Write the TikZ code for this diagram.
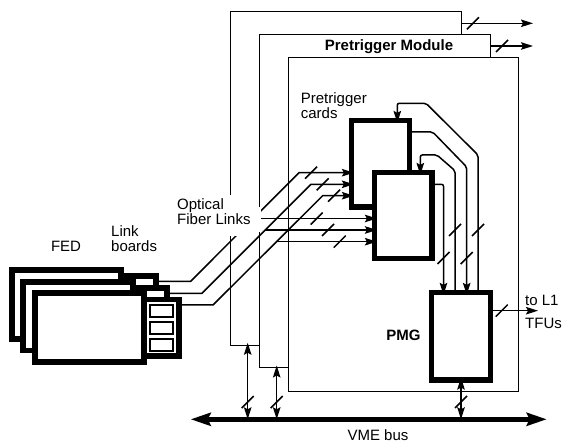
\documentclass[tikz,border=0pt]{standalone}
\usepackage{fontspec}
\setmainfont{Liberation Sans}
\usetikzlibrary{arrows.meta}
\tikzset{
  module/.style={draw, fill=white, line width=1pt, inner sep=0pt, minimum width=230.5pt, minimum height=333.5pt},
  card/.style={draw, fill=white, line width=5.2pt, inner sep=0pt, minimum width=58pt, minimum height=86.5pt},
  fedbox/.style={draw, fill=white, line width=5.8pt, inner sep=0pt, minimum width=109.3pt, minimum height=68.8pt},
  linkbox/.style={draw, fill=white, line width=5.8pt, inner sep=0pt, minimum width=34.5pt, minimum height=56.5pt},
  slotbox/.style={draw, fill=white, line width=2.2pt, inner sep=0pt, minimum width=23pt, minimum height=11.5pt},
  wire/.style={line width=1.5pt},
  into/.style={shorten >=-5pt},
  slash/.style={line width=1.5pt},
  lbl/.style={inner sep=0pt, align=left, font=\fontsize{15}{15}\selectfont},
  bus/.style={line width=5.5pt, {Stealth[length=20pt,width=13pt,inset=3pt]}-{Stealth[length=20pt,width=13pt,inset=3pt]}}
}
\begin{document}
\begin{tikzpicture}[x=1pt, y=-1pt, >={Stealth[length=12pt,width=7.5pt,inset=2pt]}]
  \useasboundingbox (0,0) rectangle (562,443);
  % modules
  \node[module] (mod1) at (345.75,178.5) {};
  \node[module] (mod2) at (374.75,201.25) {};
  \node[module] (mod3) at (403.25,224.25) {};
  \node[lbl, font=\fontsize{15}{15}\selectfont\bfseries] (modlabel) at (389,46.5) {Pretrigger Module};
  \coordinate (out1) at (533,23.3);
  \coordinate (out2) at (533,46);
  \draw[->, wire] (mod1.east |- out1) -- (out1);
  \draw[->, wire] (mod2.east |- out2) -- (out2);

  % FED crates and link boards
  \node[linkbox] (link1) at (138.35,304.6) {};
  \node[fedbox] (fed1) at (66.3,304.6) {};
  \node[linkbox] (link2) at (150.05,316.2) {};
  \node[fedbox] (fed2) at (78,316.2) {};
  \node[linkbox] (link3) at (161.75,327.75) {};
  \node[fedbox] (fed3) at (89.7,327.8) {};
  \node[slotbox] (slot1) at (161.5,311) {};
  \node[slotbox] (slot2) at (161.5,328) {};
  \node[slotbox] (slot3) at (161.5,345) {};
  \node[lbl] (fedlabel) at (66,246) {FED};
  \node[lbl, anchor=west] (linklabel) at (111,239) {Link\\boards};

  % cards
  \node[card] (card1) at (380.5,163.75) {};
  \node[card, minimum width=57.5pt, minimum height=86pt] (card2) at (403.25,215.5) {};
  \node[card, minimum width=59pt, minimum height=87.5pt] (pmg) at (461,336.25) {};
  \node[lbl, anchor=west] (cardlabel) at (300.7,106) {Pretrigger\\cards};
  \node[lbl, anchor=east, font=\fontsize{15}{15}\selectfont\bfseries] (pmglabel) at (420.7,335.7) {PMG};

  % fibers
  \coordinate (a1) at (190.7,281.3);
  \coordinate (b1) at (299,172.7);
  \coordinate (c1) at (253.7,218.5);
  \coordinate (a2) at (202,293.3);
  \coordinate (b2) at (311,184.3);
  \coordinate (c2) at (265.3,230);
  \coordinate (a3) at (213,305);
  \coordinate (b3) at (322.7,195.7);
  \coordinate (c3) at (276.7,241.7);
  \draw[->, wire, into] (link1.east |- a1) -- (a1) -- (b1) -- (card1.west |- b1);
  \draw[->, wire, into] (link2.east |- a2) -- (a2) -- (b2) -- (card1.west |- b2);
  \draw[->, wire, into] (link3.east |- a3) -- (a3) -- (b3) -- (card1.west |- b3);
  \draw[->, wire, into] (c1) -- (card2.west |- c1);
  \draw[->, wire, into] (c2) -- (card2.west |- c2);
  \draw[->, wire, into] (c3) -- (card2.west |- c3);
  \fill[white] (175,195) rectangle (253,236);
  \fill[white] (253,207) rectangle (261,232);
  \node[lbl, anchor=west] (fiberlabel) at (177,212) {Optical\\Fiber Links};

  % card outputs
  \coordinate (t1) at (397.3,103.3);
  \coordinate (t2) at (420.3,155);
  \draw[->, wire, into, rounded corners=2pt] (pmg.north -| 478,0) -- (478,155) -- (426,103.3) -- (t1) -- (t1 |- card1.north);
  \draw[->, wire, into, rounded corners=2pt] (card1.east |- 0,132) -- (432.7,132) -- (466.7,167) -- (466.7,0 |- pmg.north);
  \draw[->, wire, into, rounded corners=2pt] (pmg.north -| 455,0) -- (455,170.7) -- (437,155) -- (t2) -- (t2 |- card2.north);
  \draw[->, wire, into, rounded corners=2pt] (card2.east |- 0,184.3) -- (443.5,184.3) -- (443.5,0 |- pmg.north);

  % PMG output
  \coordinate (l1) at (538,310.7);
  \draw[->, wire] (pmg.east |- l1) -- (l1);
  \node[lbl, anchor=west] (tolabel) at (525,300) {to L1};
  \node[lbl, anchor=west] (tfulabel) at (525,323) {TFUs};

  % VME bus
  \coordinate (busl) at (190.7,419.3);
  \coordinate (busr) at (546.7,419.3);
  \coordinate (v1) at (247.7,419.3);
  \coordinate (v2) at (276.7,419.3);
  \coordinate (v3) at (461,419.3);
  \draw[<->, wire, shorten <=-3pt] (v1 |- mod1.south) -- (v1);
  \draw[<->, wire, shorten <=-3pt] (v2 |- mod2.south) -- (v2);
  \draw[<->, wire, shorten <=-5pt] (v3 |- pmg.south) -- (v3);
  \draw[bus] (busl) -- (busr);
  \node[lbl] (vmelabel) at (378,435) {VME bus};

  % slashes
  \foreach \p in {(473,23.3),(502,46),(311,172.7),(322.7,184.3),(334,195.7),(316.7,218.5),(328,230),(339.7,241.7),
                  (455,230),(478,230),(443.5,258),(466.7,258),(501.7,310.7),(247.7,402),(276.7,402),(461,402)}
    \draw[slash] \p +(-6,6) -- +(6,-6);
\end{tikzpicture}
\end{document}
